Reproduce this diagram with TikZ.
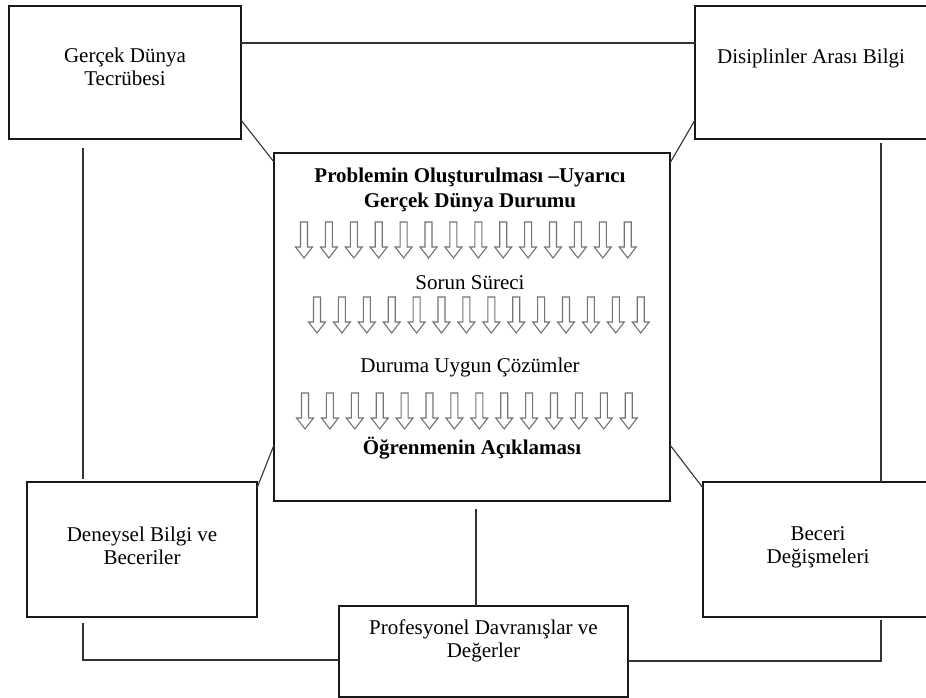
\documentclass[tikz,border=0pt]{standalone}
\usepackage{fontspec}
\setmainfont{Liberation Serif}
\usetikzlibrary{positioning}

\begin{document}
\begin{tikzpicture}[
  x=1pt, y=1pt,
  box/.style={draw=black!90, line width=1.3pt, inner sep=0pt, outer sep=0pt, align=center, font=\fontsize{21}{23}\selectfont},
  link/.style={draw=black!80, line width=1.1pt},
  hollow/.style={draw=black!55, line width=1.1pt, fill=white},
  bodytext/.style={inner sep=0pt, align=center, font=\fontsize{21}{23}\selectfont},
  headtext/.style={inner sep=0pt, align=center, font=\fontsize{21}{25}\selectfont\bfseries},
  downarrow/.pic={\path[hollow] (-3.5,0) -- (-3.5,-25) -- (-8.5,-25) -- (0,-36) -- (8.5,-25) -- (3.5,-25) -- (3.5,0) -- cycle;}
]
\useasboundingbox (0,0) rectangle (926,698);

\node[box, minimum width=396pt, minimum height=348pt] (prob) at (472,371) {};
\node[box, minimum width=232pt, minimum height=133pt, text depth=12pt, above left=14pt and 33pt of prob] (real) {Gerçek Dünya\\Tecrübesi};
\node[box, minimum width=232pt, minimum height=133pt, text depth=33pt, above right=14pt and 25pt of prob] (inter) {Disiplinler Arası Bilgi};
\node[box, minimum width=230pt, minimum height=135pt, text depth=8pt, below left=-19pt and 17pt of prob] (exper) {Deneysel Bilgi ve\\Beceriler};
\node[box, minimum width=230pt, minimum height=135pt, text depth=8pt, below right=-19pt and 33pt of prob] (skill) {Beceri\\Değişmeleri};
\node[box, minimum width=289pt, minimum height=91pt, text depth=26pt, below=105pt of prob, xshift=11.5pt] (prof) {Profesyonel Davranışlar ve\\Değerler};

% inside the centre box
\node[headtext, anchor=north] (title) at ([shift={(-2pt,-15pt)}]prob.north) {Problemin Oluşturulması –Uyarıcı\\Gerçek Dünya Durumu};
\node[bodytext, anchor=base] (sorun) at ([shift={(-2pt,-137pt)}]prob.north) {Sorun Süreci};
\node[bodytext, anchor=base] (cozum) at ([shift={(-2pt,-220pt)}]prob.north) {Duruma Uygun Çözümler};
\node[headtext, anchor=base] (ogren) at ([shift={(0pt,-302pt)}]prob.north) {Öğrenmenin Açıklaması};
\foreach \dx/\dy in {30/69, 43/144, 31/240}
  \foreach \i in {0,...,13}
    \pic at ([shift={(\dx+\i*24.9,-\dy)}]prob.north west) {downarrow};

% connectors
\draw[link] ([yshift=-37pt]real.north east) -- ([yshift=-37pt]inter.north west);
\draw[link] ([yshift=19pt]real.south east) -- ([yshift=-9pt]prob.north west);
\draw[link] ([yshift=19pt]inter.south west) -- ([yshift=-10pt]prob.north east);
\draw[link] ([shift={(74pt,-9pt)}]real.south west) -- ([shift={(56pt,3pt)}]exper.north west);
\draw[link] ([shift={(186pt,-4pt)}]inter.south west) -- ([xshift=178pt]skill.north west);
\draw[link] ([shift={(56pt,-6pt)}]exper.south west) |- ([yshift=-8.5pt]prof.west);
\draw[link] ([shift={(178pt,-3pt)}]skill.south west) |- ([yshift=-9.5pt]prof.east);
\draw[link] ([shift={(4pt,-8pt)}]prob.south) -- ([xshift=-7.5pt]prof.north);
\draw[link] ([yshift=-6pt]exper.north east) -- ([yshift=56pt]prob.south west);
\draw[link] ([yshift=56pt]prob.south east) -- ([yshift=-6pt]skill.north west);
\end{tikzpicture}
\end{document}
